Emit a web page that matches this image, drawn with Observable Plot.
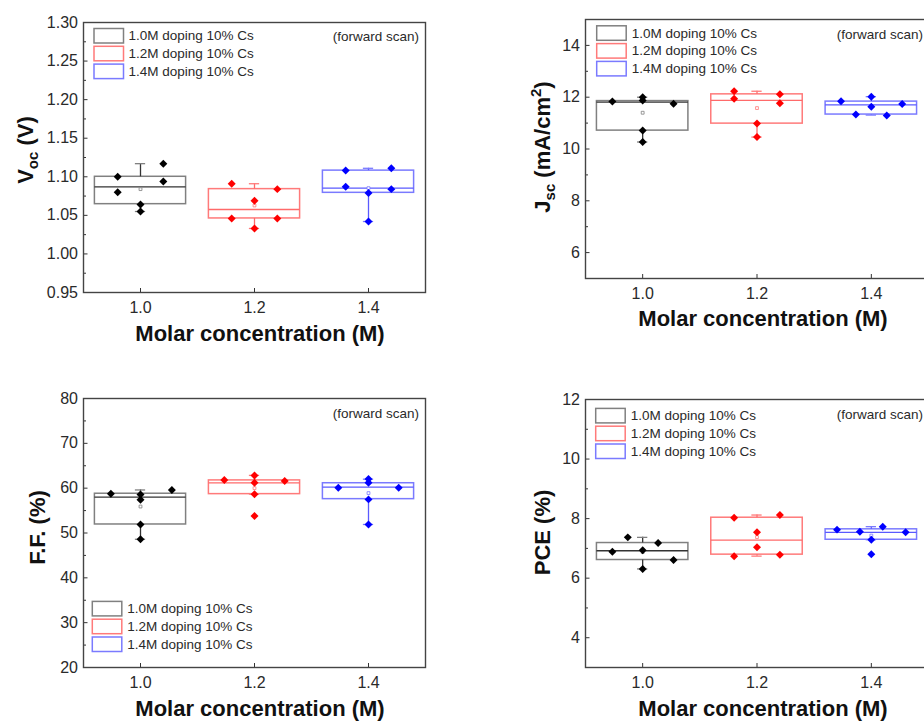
<!DOCTYPE html>
<html><head><meta charset="utf-8">
<script src="https://cdn.jsdelivr.net/npm/d3@7"></script>
<script src="https://cdn.jsdelivr.net/npm/@observablehq/plot@0.6"></script>
<style>
body{margin:0;background:#fff;}
#root{position:relative;width:924px;height:722px;overflow:hidden;font-family:"Liberation Sans",Arial,sans-serif;}
.panel{position:absolute;}
</style></head><body><div id="root"></div>
<script>
// ---------- data ----------
const concentrations = [1.0, 1.2, 1.4];
const groupNames = ["1.0M doping 10% Cs", "1.2M doping 10% Cs", "1.4M doping 10% Cs"];
const pointColors = ["#000000", "#ff0000", "#0000ff"];
const boxColors = ["#808080", "#ff7a7a", "#7a7aff"];
const lineColors = ["#333333", "#ff6a6a", "#5a5aff"];
const xTicks = [1.0, 1.2, 1.4];

// Voc (V)
const vocValues = [[1.100, 1.080, 1.064, 1.055, 1.117, 1.094], [1.091, 1.069, 1.084, 1.046, 1.046, 1.033], [1.108, 1.087, 1.079, 1.042, 1.111, 1.084]];
const vocOffsets = [[-0.04, -0.04, 0, 0, 0.04, 0.04], [-0.04, 0, 0.04, -0.04, 0.04, 0], [-0.04, -0.04, 0, 0, 0.04, 0.04]];
// box statistics: [whisker low, Q1, median, Q3, whisker high, mean]
const vocBoxes = [[1.055, 1.0645, 1.087, 1.100, 1.117, 1.084], [1.033, 1.046, 1.0576, 1.084, 1.091, 1.0628], [1.042, 1.0792, 1.0853, 1.108, 1.111, 1.0853]];
const vocMajor = [0.95, 1.00, 1.05, 1.10, 1.15, 1.20, 1.25, 1.30];
const vocMinor = [0.975, 1.025, 1.075, 1.125, 1.175, 1.225, 1.275];

// Jsc (mA/cm2)
const jscValues = [[11.83, 12.00, 11.87, 11.75, 10.71, 10.27], [12.23, 11.94, 12.11, 11.77, 10.98, 10.46], [11.84, 11.33, 12.02, 11.63, 11.29, 11.74]];
const jscOffsets = [[-0.053, 0, 0, 0.054, 0, 0], [-0.04, -0.04, 0.04, 0.04, 0, 0], [-0.053, -0.027, 0, 0, 0.027, 0.054]];
const jscBoxes = [[10.27, 10.71, 11.81, 11.85, 12.00, 11.40], [10.46, 10.98, 11.88, 12.11, 12.23, 11.58], [11.31, 11.33, 11.70, 11.83, 12.02, 11.64]];
const jscMajor = [6, 8, 10, 12, 14];
const jscMinor = [5, 7, 9, 11, 13, 15];

// F.F. (%)
const ffValues = [[58.76, 58.6, 57.4, 51.9, 48.6, 59.57], [61.8, 62.85, 61.2, 58.67, 53.8, 61.58], [60.1, 62.03, 61.2, 57.5, 51.9, 60.1]];
const ffOffsets = [[-0.052, 0, 0, 0, 0, 0.055], [-0.053, 0, 0, 0, 0, 0.053], [-0.053, 0, 0, 0, 0, 0.053]];
const ffBoxes = [[48.6, 51.9, 58.0, 58.76, 59.6, 55.9], [58.67, 58.67, 61.2, 61.73, 62.85, 60.0], [51.9, 57.55, 60.24, 61.1, 62.0, 58.9]];
const ffMajor = [20, 30, 40, 50, 60, 70, 80];
const ffMinor = [25, 35, 45, 55, 65, 75];

// PCE (%)
const pceValues = [[6.89, 7.37, 6.94, 6.31, 7.18, 6.61], [8.03, 6.74, 7.54, 7.04, 8.12, 6.79], [7.63, 7.56, 7.29, 6.80, 7.73, 7.54]];
const pceOffsets = [[-0.053, -0.026, 0, 0, 0.027, 0.054], [-0.04, -0.04, 0, 0, 0.04, 0.04], [-0.06, -0.02, 0, 0, 0.02, 0.06]];
const pceBoxes = [[6.31, 6.61, 6.92, 7.18, 7.37, 6.88], [6.74, 6.79, 7.28, 8.03, 8.12, 7.38], [7.29, 7.29, 7.54, 7.64, 7.73, 7.43]];
const pceMajor = [4, 6, 8, 10, 12];
const pceMinor = [3, 5, 7, 9, 11];

const scanNote = "(forward scan)";
const xTitle = "Molar concentration (M)";

// ---------- layout ----------
const panels = [
  {values: vocValues, offsets: vocOffsets, boxes: vocBoxes, major: vocMajor, minor: vocMinor, yDomain: [0.95, 1.30], fmt: d3.format(".2f"),
   left: 0, top: 0, width: 440, height: 361, m: [22, 15, 69, 83],
   ylabel: [{t: "V", s: 22}, {t: "oc", s: 15, dy: 5}, {t: " (V)", s: 22, dy: -5}], ylx: 33, yly: 150,
   xlx: 260, xly: 341, leg: {x: 94, y: 28.5, tx: 128.5}, note: {x: 419, y: 36}},
  {values: jscValues, offsets: jscOffsets, boxes: jscBoxes, major: jscMajor, minor: jscMinor, yDomain: [5, 15], fmt: d3.format("d"),
   left: 480, top: 0, width: 460, height: 361, m: [19, 12, 83, 105],
   ylabel: [{t: "J", s: 22}, {t: "sc", s: 15, dy: 5}, {t: " (mA/cm", s: 22, dy: -5}, {t: "2", s: 15, dy: -9}, {t: ")", s: 22, dy: 9}], ylx: 70, yly: 147,
   xlx: 283, xly: 326, leg: {x: 116.7, y: 25.8, tx: 151.7}, note: {x: 443, y: 34}},
  {values: ffValues, offsets: ffOffsets, boxes: ffBoxes, major: ffMajor, minor: ffMinor, yDomain: [20, 80], fmt: d3.format("d"),
   left: 0, top: 361, width: 440, height: 361, m: [37, 15, 55, 83],
   ylabel: [{t: "F.F. (%)", s: 22}], ylx: 45, yly: 166.5,
   xlx: 260, xly: 355, leg: {x: 92.3, y: 240.4, tx: 127.3}, note: {x: 419, y: 52.3}},
  {values: pceValues, offsets: pceOffsets, boxes: pceBoxes, major: pceMajor, minor: pceMinor, yDomain: [3, 12], fmt: d3.format("d"),
   left: 480, top: 361, width: 460, height: 361, m: [38, 12, 55, 105],
   ylabel: [{t: "PCE (%)", s: 22}], ylx: 70, yly: 171.5,
   xlx: 283, xly: 355, leg: {x: 115.7, y: 47.4, tx: 150.7}, note: {x: 443, y: 53}}
];

const root = document.getElementById("root");
const BW = 0.08, CAP = 0.009;

for (const p of panels) {
  const pts = [];
  p.values.forEach((arr, g) => arr.forEach((v, i) => pts.push({g, c: concentrations[g], x: concentrations[g] + p.offsets[g][i], v})));
  const bx = p.boxes.map((b, g) => ({g, c: concentrations[g], lo: b[0], q1: b[1], med: b[2], q3: b[3], hi: b[4], mean: b[5]}));
  const chart = Plot.plot({
    width: p.width, height: p.height,
    marginTop: p.m[0], marginRight: p.m[1], marginBottom: p.m[2], marginLeft: p.m[3],
    style: {fontFamily: "'Liberation Sans', Arial, sans-serif", fontSize: "16px", color: "#2a2a2a", background: "transparent", overflow: "visible"},
    x: {domain: [0.9, 1.5]},
    y: {domain: p.yDomain},
    color: {type: "identity"},
    marks: [
      Plot.axisX({ticks: xTicks, tickSize: -4, tickPadding: 13, tickFormat: d3.format(".1f"), label: null, stroke: "#333"}),
      Plot.axisY({ticks: p.major, tickSize: -4.5, tickPadding: 10, tickFormat: p.fmt, label: null, stroke: "#333"}),
      Plot.axisY({ticks: p.minor, tickSize: -3, tickFormat: () => "", label: null, stroke: "#333"}),
      Plot.rect(bx, {x1: d => d.c - BW, x2: d => d.c + BW, y1: "q1", y2: "q3", stroke: d => boxColors[d.g], strokeWidth: 1.5, fill: "none"}),
      Plot.ruleY(bx, {y: "med", x1: d => d.c - BW, x2: d => d.c + BW, stroke: d => lineColors[d.g], strokeWidth: 1.3}),
      Plot.ruleX(bx, {x: "c", y1: "q3", y2: "hi", stroke: d => lineColors[d.g], strokeWidth: 1.3}),
      Plot.ruleX(bx, {x: "c", y1: "lo", y2: "q1", stroke: d => lineColors[d.g], strokeWidth: 1.3}),
      Plot.ruleY(bx, {y: "hi", x1: d => d.c - CAP, x2: d => d.c + CAP, stroke: d => boxColors[d.g], strokeWidth: 1.3}),
      Plot.ruleY(bx, {y: "lo", x1: d => d.c - CAP, x2: d => d.c + CAP, stroke: d => boxColors[d.g], strokeWidth: 1.3}),
      Plot.dot(bx, {x: "c", y: "mean", symbol: "square", r: 1.6, stroke: d => boxColors[d.g], strokeWidth: 0.8, fill: "white"}),
      Plot.dot(pts, {x: "x", y: "v", symbol: "diamond2", r: 3.6, fill: d => pointColors[d.g], stroke: "none"}),
      Plot.frame({stroke: "#444", strokeWidth: 1.4})
    ]
  });
  chart.classList.add("panel");
  chart.style.left = p.left + "px";
  chart.style.top = p.top + "px";
  root.appendChild(chart);

  const svg = d3.select(chart);
  const font = "'Liberation Sans', Arial, sans-serif";
  // y title
  const yt = svg.append("text")
    .attr("transform", `translate(${p.ylx},${p.yly}) rotate(-90)`)
    .attr("text-anchor", "middle").attr("font-family", font).attr("font-weight", "bold").attr("fill", "#111");
  for (const part of p.ylabel) {
    const ts = yt.append("tspan").attr("font-size", part.s).text(part.t);
    if (part.dy) ts.attr("dy", part.dy);
  }
  // x title
  svg.append("text").attr("x", p.xlx).attr("y", p.xly).attr("text-anchor", "middle")
    .attr("font-family", font).attr("font-weight", "bold").attr("font-size", 22).attr("fill", "#111").text(xTitle);
  // legend
  groupNames.forEach((name, g) => {
    const y0 = p.leg.y + g * 17.8;
    svg.append("rect").attr("x", p.leg.x).attr("y", y0).attr("width", 29.5).attr("height", 14.5)
      .attr("fill", "none").attr("stroke", boxColors[g]).attr("stroke-width", 1.5);
    svg.append("text").attr("x", p.leg.tx).attr("y", y0 + 7.3).attr("dominant-baseline", "central")
      .attr("text-anchor", "start")
      .attr("font-family", font).attr("font-size", 13.5).attr("fill", "#2a2a2a").text(name);
  });
  // note
  svg.append("text").attr("x", p.note.x).attr("y", p.note.y).attr("dominant-baseline", "central").attr("text-anchor", "end")
    .attr("font-family", font).attr("font-size", 13.5).attr("fill", "#2a2a2a").text(scanNote);
}
</script></body></html>
